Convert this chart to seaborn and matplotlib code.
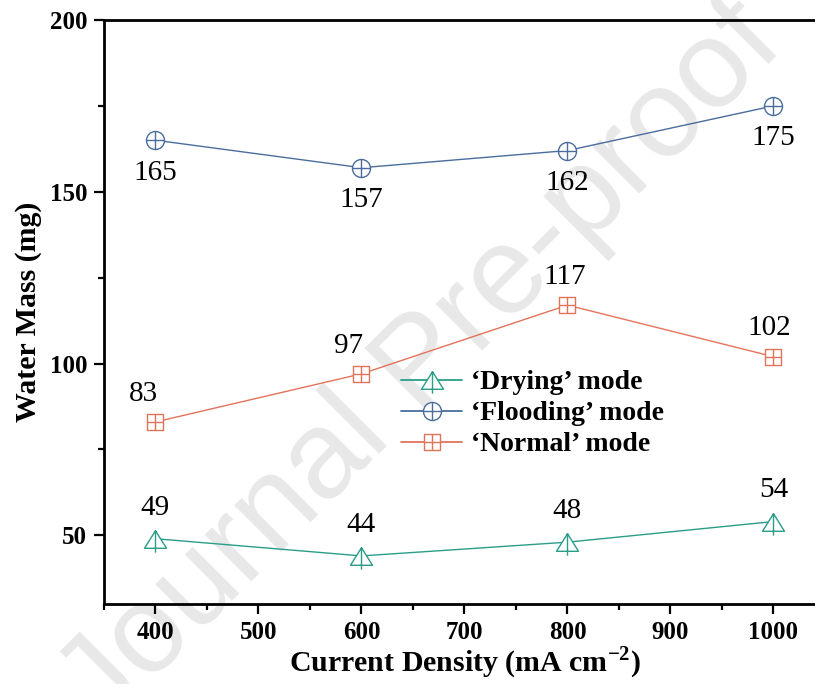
import numpy as np
import pandas as pd
import seaborn as sns
import matplotlib.pyplot as plt
from matplotlib.lines import Line2D
from matplotlib.path import Path
from matplotlib.ticker import MultipleLocator

current = [400, 600, 800, 1000]
drying = [49, 44, 48, 54]
flooding = [165, 157, 162, 175]
normal = [83, 97, 117, 102]
modes = ["\u2018Drying\u2019 mode", "\u2018Flooding\u2019 mode", "\u2018Normal\u2019 mode"]

df = pd.DataFrame({
    "Current Density": current * 3,
    "Water Mass": drying + flooding + normal,
    "mode": [m for m in modes for _ in current],
})

sns.set_style("ticks")
plt.rcParams["font.family"] = ["Liberation Serif", "DejaVu Serif"]
plt.rcParams["mathtext.fontset"] = "custom"
plt.rcParams["mathtext.rm"] = "Liberation Serif"
plt.rcParams["mathtext.bf"] = "Liberation Serif:bold"
plt.rcParams["text.color"] = "black"
plt.rcParams["axes.labelcolor"] = "black"
plt.rcParams["xtick.color"] = "black"
plt.rcParams["ytick.color"] = "black"
plt.rcParams["axes.edgecolor"] = "black"

# origin style markers: shape with a cross inside
M, L = Path.MOVETO, Path.LINETO
tri_cross = Path([(0, 0.8), (-1, -0.8), (1, -0.8), (0, 0.8), (0, 0.8), (0, -1.2)],
                 [M, L, L, Path.CLOSEPOLY, M, L])
circ = Path.unit_circle()
circ_cross = Path.make_compound_path(circ, Path([(-1, 0), (1, 0)], [M, L]),
                                     Path([(0, -1), (0, 1)], [M, L]))
sq_cross = Path([(-1, -1), (1, -1), (1, 1), (-1, 1), (-1, -1),
                 (-1, 0), (1, 0), (0, -1), (0, 1)],
                [M, L, L, L, Path.CLOSEPOLY, M, L, M, L])

colors = {modes[0]: "#2A9D89", modes[1]: "#4A6D9E", modes[2]: "#E2735A"}
markers = {modes[0]: tri_cross, modes[1]: circ_cross, modes[2]: sq_cross}
sizes = {modes[0]: 19, modes[1]: 13, modes[2]: 11}

fig = plt.figure(figsize=(8.15, 6.84), dpi=100)
fig.text(0.518, 0.466, "Journal Pre-proof", fontsize=90, color="#e8e8e8",
         rotation=45, ha="center", va="center", family="Liberation Sans", zorder=-5)
ax = fig.add_axes([104 / 815, 80 / 684, 722 / 815, 584 / 684])
ax.patch.set_alpha(0)

sns.lineplot(data=df, x="Current Density", y="Water Mass", hue="mode",
             palette=colors, lw=1.0, legend=False, ax=ax)

handles = []
for m in modes:
    sub = df[df["mode"] == m]
    ax.plot(sub["Current Density"], sub["Water Mass"], ls="none", marker=markers[m],
            ms=sizes[m], mfc="white", mec=colors[m], mew=1.0, zorder=3)
    handles.append(Line2D([], [], color=colors[m], lw=1.3, marker=markers[m],
                          ms=sizes[m], mfc="white", mec=colors[m], mew=1.0))

# value labels
for x, y in zip(current, flooding):
    ax.annotate(str(y), (x, y), xytext=(0, -14), textcoords="offset points",
                ha="center", va="top", fontsize=21)
for x, y, dx in zip(current, normal, [-9, -9, -2, -3]):
    ax.annotate(str(y), (x, y), xytext=(dx, 11), textcoords="offset points",
                ha="center", va="bottom", fontsize=21)
for x, y in zip(current, drying):
    ax.annotate(str(y), (x, y), xytext=(0, 13), textcoords="offset points",
                ha="center", va="bottom", fontsize=21)

ax.set_xlim(350, 1051)
ax.set_ylim(30, 200)
ax.xaxis.set_major_locator(MultipleLocator(100))
ax.xaxis.set_minor_locator(MultipleLocator(50))
ax.yaxis.set_major_locator(MultipleLocator(50))
ax.yaxis.set_minor_locator(MultipleLocator(25))
ax.tick_params(which="major", length=7, width=1.6, direction="out", labelsize=18, pad=5)
ax.tick_params(which="minor", length=4, width=1.6, direction="out")
for lab in ax.get_xticklabels() + ax.get_yticklabels():
    lab.set_fontweight("bold")
for s in ax.spines.values():
    s.set_linewidth(2.0)
    s.set_visible(True)

ax.set_xlabel("Current Density (mA cm$^{\\mathbf{-2}}$)", fontsize=21.5, fontweight="bold", labelpad=1)
ax.set_ylabel("Water Mass (mg)", fontsize=21.5, fontweight="bold", labelpad=6)

ax.legend(handles, modes, loc="upper left", bbox_to_anchor=(0.396, 0.42),
          borderaxespad=0, frameon=False, prop={"weight": "bold", "size": 20},
          handlelength=2.2, handletextpad=0.32, labelspacing=0.2)

fig.savefig("out.png", dpi=100)
